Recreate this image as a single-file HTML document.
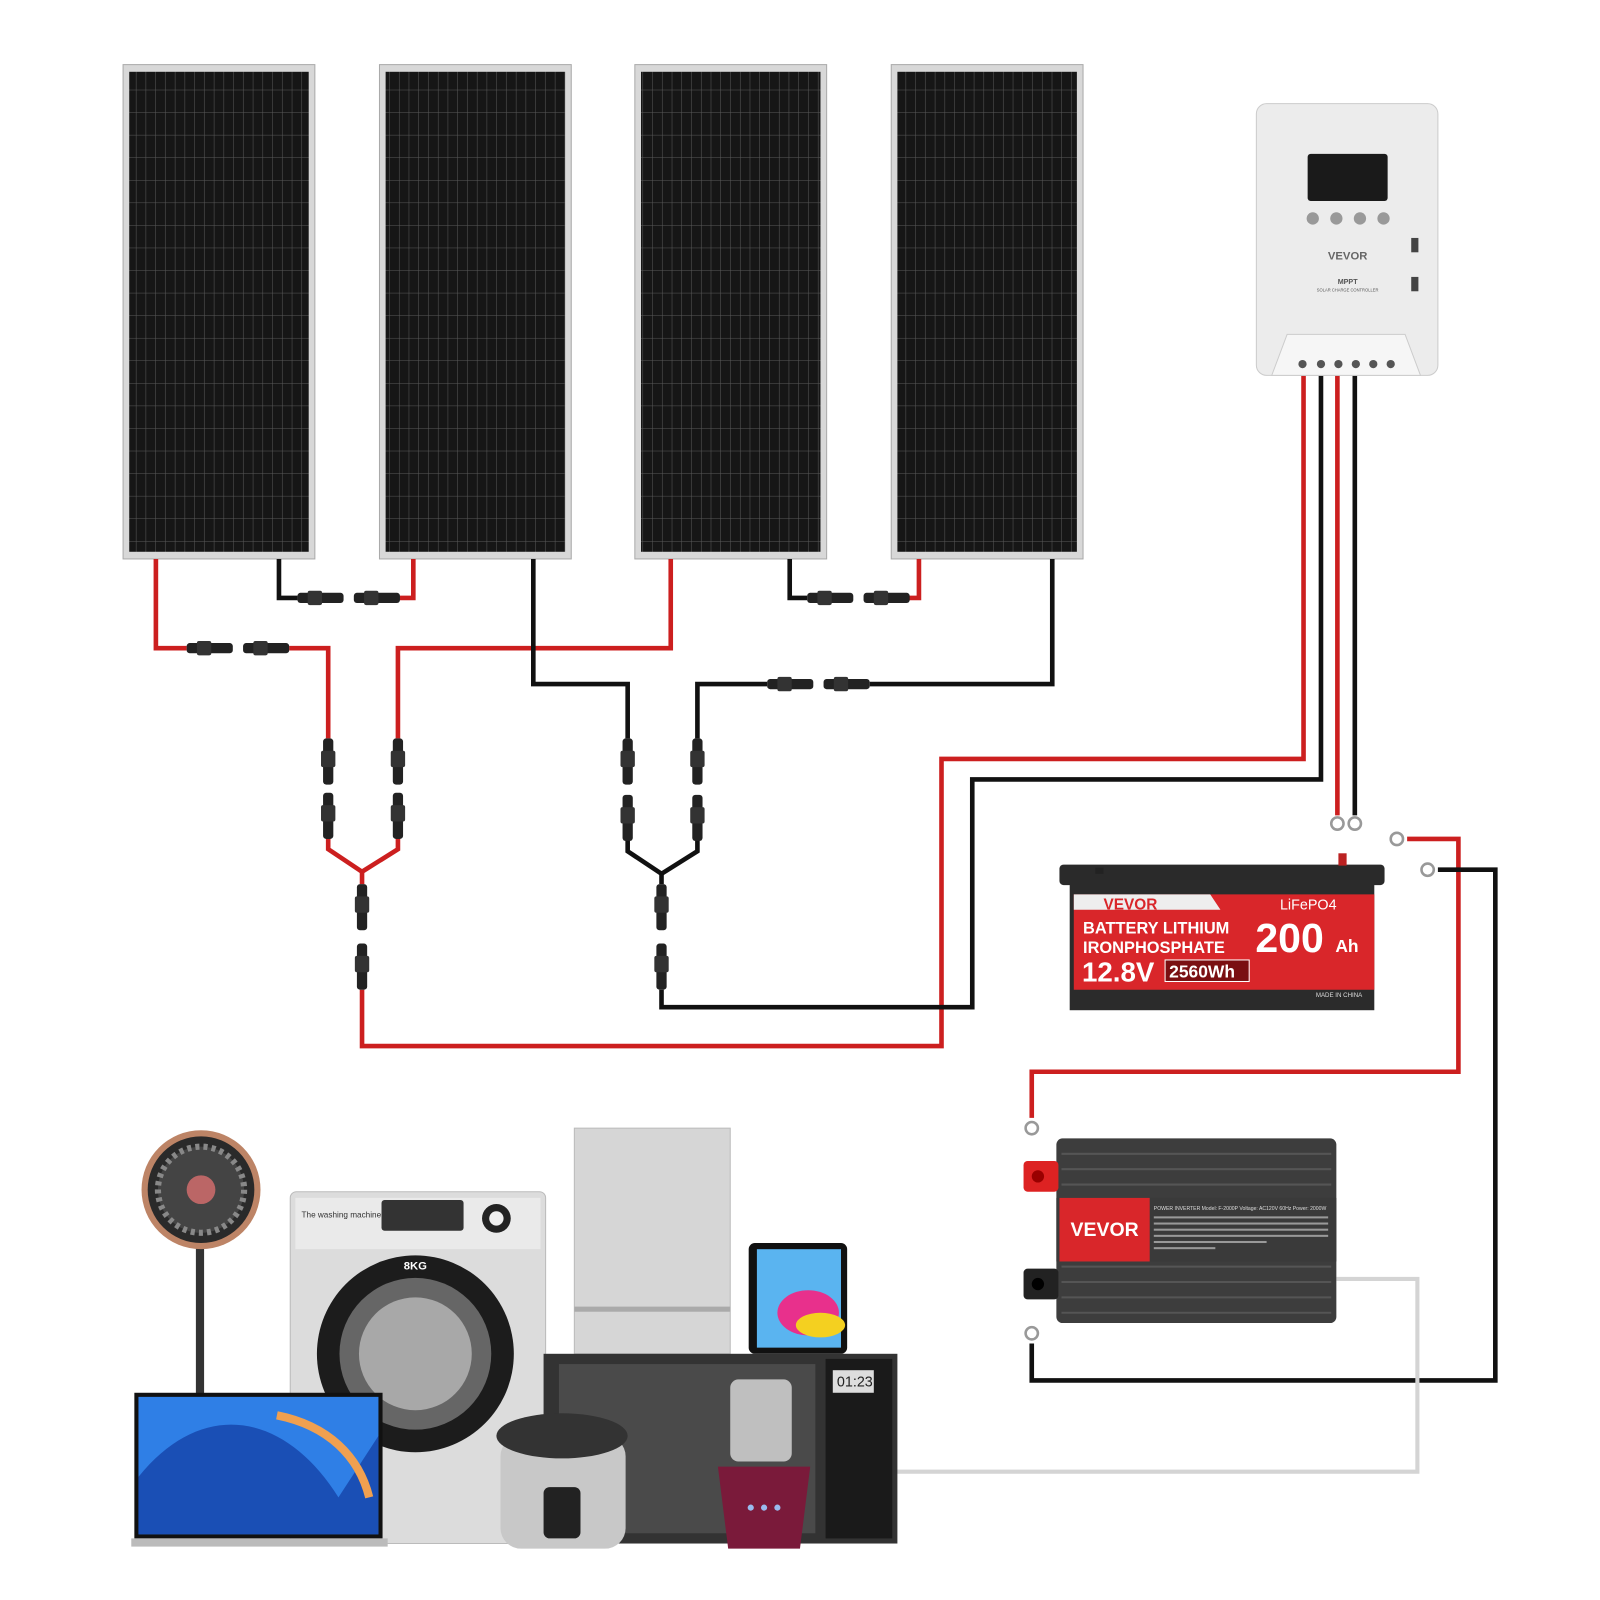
<!DOCTYPE html>
<html><head><meta charset="utf-8"><style>
html,body{margin:0;padding:0;background:#fff}
svg{display:block}
text{font-family:"Liberation Sans",sans-serif}
</style></head><body>
<svg width="1600" height="1600" viewBox="0 0 1600 1600" xmlns="http://www.w3.org/2000/svg">
<defs>
<pattern id="cells" width="9.5" height="22" patternUnits="userSpaceOnUse">
<rect width="9.5" height="22" fill="#161616"/>
<path d="M9.5 0V22M0 22H9.5" stroke="#5a5a5a" stroke-width="1"/>
</pattern>
<g id="conn"><rect x="0" y="-5" width="45" height="10" rx="3" fill="#222"/><rect x="10" y="-7" width="14" height="14" rx="2" fill="#333"/></g>
<g id="vconn"><rect x="-5" y="0" width="10" height="45" rx="3" fill="#222"/><rect x="-7" y="12" width="14" height="16" rx="2" fill="#333"/></g>
</defs>
<g transform="scale(1.0256)">
<!-- panels -->
<g>
<rect x="120" y="63" width="187" height="482" fill="#d8d8d8" stroke="#aaa"/><rect x="126" y="70" width="175" height="468" fill="url(#cells)"/>
<rect x="370" y="63" width="187" height="482" fill="#d8d8d8" stroke="#aaa"/><rect x="376" y="70" width="175" height="468" fill="url(#cells)"/>
<rect x="619" y="63" width="187" height="482" fill="#d8d8d8" stroke="#aaa"/><rect x="625" y="70" width="175" height="468" fill="url(#cells)"/>
<rect x="869" y="63" width="187" height="482" fill="#d8d8d8" stroke="#aaa"/><rect x="875" y="70" width="175" height="468" fill="url(#cells)"/>
</g>

<g fill="none" stroke-width="4.5" stroke-linejoin="miter">
<g stroke="#cc1f1f">
<path d="M152 545V632H182"/>
<path d="M282 632H320V720"/>
<path d="M390 583H403V545"/>
<path d="M654 545V632H388V720"/>
<path d="M885 583H896V545"/>
<path d="M320 818V828L353 850L388 828V818"/>
<path d="M353 850V862"/>
<path d="M353 965V1020H918V740H1271V366"/>
<path d="M1304 366V795"/>
<path d="M1372 818H1422V1045H1006V1090"/>
</g>
<g stroke="#111">
<path d="M272 545V583H290"/>
<path d="M520 545V667H612V720"/>
<path d="M680 720V667H748"/>
<path d="M848 667H1026V545"/>
<path d="M770 545V583H787"/>
<path d="M612 820V830L645 852L680 830V820"/>
<path d="M645 852V862"/>
<path d="M645 965V982H948V760H1288V366"/>
<path d="M1321 366V795"/>
<path d="M1402 848H1458V1346H1006V1310"/>
</g>
<path d="M1303 1247H1382V1435H870" stroke="#d4d4d4" stroke-width="4"/>
</g>

<use href="#conn" x="182" y="632"/><use href="#conn" x="237" y="632"/>
<use href="#conn" x="290" y="583"/><use href="#conn" x="345" y="583"/>
<use href="#conn" x="748" y="667"/><use href="#conn" x="803" y="667"/>
<use href="#conn" x="787" y="583"/><use href="#conn" x="842" y="583"/>
<use href="#vconn" x="320" y="720"/><use href="#vconn" x="320" y="773"/>
<use href="#vconn" x="388" y="720"/><use href="#vconn" x="388" y="773"/>
<use href="#vconn" x="612" y="720"/><use href="#vconn" x="612" y="775"/>
<use href="#vconn" x="680" y="720"/><use href="#vconn" x="680" y="775"/>
<use href="#vconn" x="353" y="862"/><use href="#vconn" x="353" y="920"/>
<use href="#vconn" x="645" y="862"/><use href="#vconn" x="645" y="920"/>

<g fill="none" stroke="#999" stroke-width="2.5">
<circle cx="1304" cy="803" r="6"/><circle cx="1321" cy="803" r="6"/>
<circle cx="1362" cy="818" r="6"/><circle cx="1392" cy="848" r="6"/>
<circle cx="1006" cy="1100" r="6"/><circle cx="1006" cy="1300" r="6"/>
</g>

<!-- controller -->
<rect x="1225" y="101" width="177" height="265" rx="10" fill="#ececec" stroke="#ccc"/>
<rect x="1275" y="150" width="78" height="46" rx="3" fill="#1a1a1a"/>
<g fill="#999"><circle cx="1280" cy="213" r="6"/><circle cx="1303" cy="213" r="6"/><circle cx="1326" cy="213" r="6"/><circle cx="1349" cy="213" r="6"/></g>
<text x="1314" y="253" font-size="11" font-weight="bold" fill="#666" text-anchor="middle">VEVOR</text>
<text x="1314" y="277" font-size="7" font-weight="bold" fill="#555" text-anchor="middle">MPPT</text>
<text x="1314" y="284" font-size="4" fill="#555" text-anchor="middle">SOLAR CHARGE CONTROLLER</text>
<rect x="1376" y="232" width="7" height="14" fill="#444"/><rect x="1376" y="270" width="7" height="14" fill="#444"/>
<path d="M1240 366L1255 326H1370L1385 366Z" fill="#f6f6f6" stroke="#ccc"/>
<g fill="#555"><circle cx="1270" cy="355" r="4"/><circle cx="1288" cy="355" r="4"/><circle cx="1305" cy="355" r="4"/><circle cx="1322" cy="355" r="4"/><circle cx="1339" cy="355" r="4"/><circle cx="1356" cy="355" r="4"/></g>

<!-- battery -->
<rect x="1033" y="843" width="317" height="20" rx="4" fill="#2a2a2a"/>
<rect x="1043" y="858" width="297" height="127" fill="#2b2b2b"/>
<path d="M1047 872H1340V965H1047Z" fill="#d9262a"/>
<path d="M1047 872H1180L1190 887H1047Z" fill="#eee"/>
<rect x="1305" y="832" width="8" height="12" fill="#b22"/><rect x="1068" y="846" width="8" height="6" fill="#222"/>
<text x="1076" y="887" font-size="15" font-weight="bold" fill="#d9262a">VEVOR</text>
<text x="1248" y="887" font-size="14" fill="#fff">LiFePO4</text>
<text x="1056" y="910" font-size="16" font-weight="bold" fill="#fff" font-family="Liberation Mono">BATTERY LITHIUM</text>
<text x="1056" y="929" font-size="16" font-weight="bold" fill="#fff" font-family="Liberation Mono">IRONPHOSPHATE</text>
<text x="1224" y="928" font-size="40" font-weight="bold" fill="#fff">200</text>
<text x="1302" y="928" font-size="17" font-weight="bold" fill="#fff">Ah</text>
<text x="1055" y="957" font-size="27" font-weight="bold" fill="#fff">12.8V</text>
<rect x="1136" y="936" width="82" height="21" fill="#7a0f12" stroke="#fff" stroke-width="1"/>
<text x="1140" y="953" font-size="17" font-weight="bold" fill="#fff" font-family="Liberation Mono">2560Wh</text>
<text x="1283" y="972" font-size="6" fill="#ddd">MADE IN CHINA</text>

<!-- inverter -->
<rect x="1030" y="1110" width="273" height="180" rx="6" fill="#3d3d3d"/>
<g stroke="#555" stroke-width="2"><path d="M1035 1125H1298M1035 1140H1298M1035 1155H1298M1035 1235H1298M1035 1250H1298M1035 1265H1298M1035 1280H1298"/></g>
<rect x="1030" y="1168" width="273" height="62" fill="#3a3a3a"/>
<rect x="1033" y="1168" width="88" height="62" fill="#d9262a"/>
<text x="1077" y="1205" font-size="19" font-weight="bold" fill="#fff" text-anchor="middle">VEVOR</text>
<text x="1125" y="1180" font-size="5" fill="#ddd">POWER INVERTER  Model: F-2000P  Voltage: AC120V 60Hz  Power: 2000W</text>
<g fill="#999"><rect x="1125" y="1186" width="170" height="2"/><rect x="1125" y="1192" width="170" height="2"/><rect x="1125" y="1198" width="170" height="2"/><rect x="1125" y="1204" width="170" height="2"/><rect x="1125" y="1210" width="110" height="2"/><rect x="1125" y="1216" width="60" height="2"/></g>
<rect x="998" y="1132" width="34" height="30" rx="4" fill="#d22"/><circle cx="1012" cy="1147" r="6" fill="#900"/>
<rect x="998" y="1237" width="34" height="30" rx="4" fill="#222"/><circle cx="1012" cy="1252" r="6" fill="#000"/>

<!-- fan -->
<rect x="191" y="1210" width="8" height="150" fill="#333"/>
<circle cx="196" cy="1160" r="58" fill="#bd8466"/><circle cx="196" cy="1160" r="52" fill="#2a2a2a"/>
<circle cx="196" cy="1160" r="42" fill="#444" stroke="#888" stroke-dasharray="4 4" stroke-width="6"/><circle cx="196" cy="1160" r="14" fill="#b66"/>

<!-- washing machine -->
<rect x="283" y="1162" width="249" height="343" rx="6" fill="#dcdcdc" stroke="#bbb"/>
<rect x="288" y="1168" width="239" height="50" fill="#eaeaea"/>
<text x="294" y="1187" font-size="8" fill="#333">The washing machine</text>
<rect x="372" y="1170" width="80" height="30" rx="3" fill="#333"/>
<circle cx="484" cy="1188" r="14" fill="#222"/><circle cx="484" cy="1188" r="7" fill="#eee"/>
<circle cx="405" cy="1320" r="96" fill="#1c1c1c"/><circle cx="405" cy="1320" r="74" fill="#666"/><circle cx="405" cy="1320" r="55" fill="#a8a8a8"/>
<text x="405" y="1238" font-size="11" font-weight="bold" fill="#fff" text-anchor="middle">8KG</text>

<!-- fridge -->
<rect x="560" y="1100" width="152" height="220" fill="#d6d6d6" stroke="#bbb"/>
<rect x="560" y="1274" width="152" height="5" fill="#aaa"/>

<!-- tablet -->
<rect x="730" y="1212" width="96" height="108" rx="6" fill="#111"/>
<rect x="738" y="1218" width="82" height="96" fill="#5ab4f0"/>
<ellipse cx="788" cy="1280" rx="30" ry="22" fill="#e8308c"/><ellipse cx="800" cy="1292" rx="24" ry="12" fill="#f4d020"/>

<!-- microwave -->
<rect x="530" y="1320" width="345" height="185" fill="#333"/>
<rect x="545" y="1330" width="250" height="165" fill="#4a4a4a"/>
<rect x="805" y="1325" width="65" height="175" fill="#1a1a1a"/>
<rect x="812" y="1336" width="40" height="22" fill="#ddd"/>
<text x="816" y="1352" font-size="14" fill="#222" font-family="Liberation Mono">01:23</text>

<!-- laptop -->
<rect x="131" y="1358" width="242" height="142" fill="#111"/>
<rect x="135" y="1362" width="234" height="134" fill="#2f7fe6"/>
<path d="M135 1440C200 1360 280 1380 330 1460L369 1400V1496H135Z" fill="#1a4fb5"/>
<path d="M270 1380C320 1390 350 1420 360 1460" stroke="#f0a050" stroke-width="8" fill="none"/>
<rect x="128" y="1500" width="250" height="8" fill="#bbb"/>

<!-- rice cooker -->
<rect x="488" y="1400" width="122" height="110" rx="20" fill="#c8c8c8"/>
<ellipse cx="548" cy="1400" rx="64" ry="22" fill="#333"/>
<rect x="530" y="1450" width="36" height="50" rx="6" fill="#222"/>

<!-- blender -->
<rect x="712" y="1345" width="60" height="80" rx="8" fill="#ccc" opacity="0.9"/>
<path d="M700 1430H790L780 1510H710Z" fill="#7a1a3a"/>
<g fill="#9be"><circle cx="732" cy="1470" r="3"/><circle cx="745" cy="1470" r="3"/><circle cx="758" cy="1470" r="3"/></g>
</g>
</svg>
</body></html>
